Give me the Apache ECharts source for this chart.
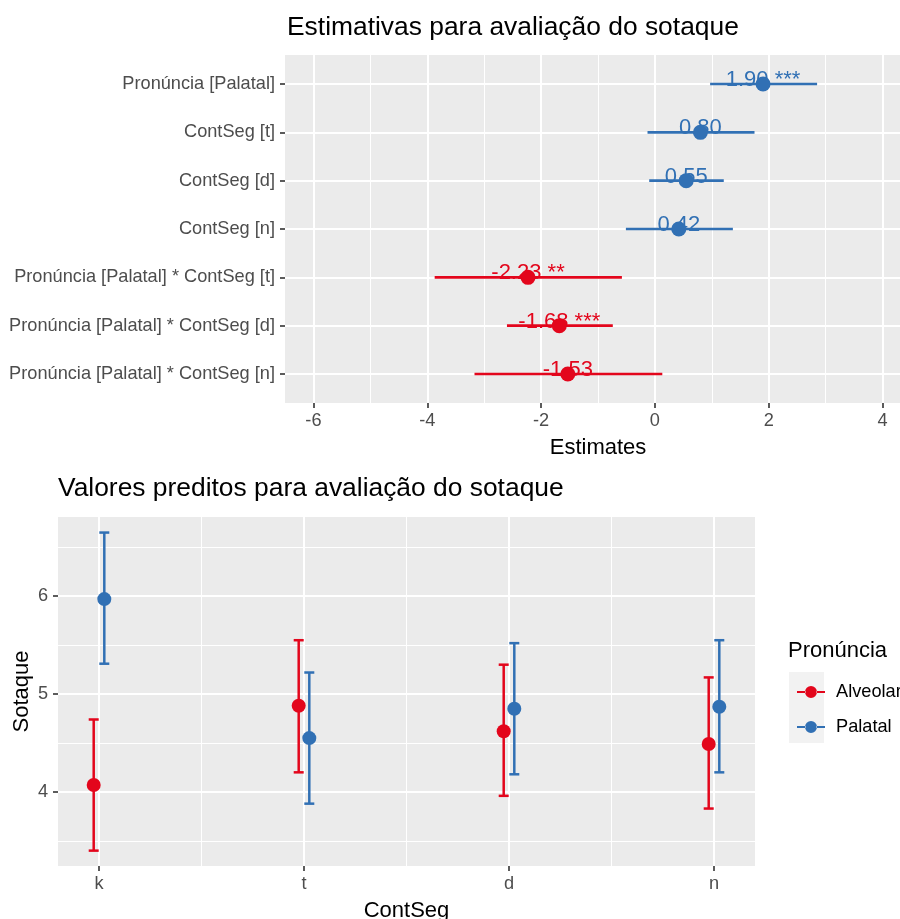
<!DOCTYPE html>
<html><head><meta charset="utf-8">
<script src="https://cdn.jsdelivr.net/npm/echarts@6/dist/echarts.min.js"></script>
<style>html,body{margin:0;padding:0;background:#fff}#c{width:900px;height:919px}</style>
</head><body><div id="c"></div>
<script>
// ---- Top panel: model estimates ----
const termLabels = ['Pronúncia [Palatal]', 'ContSeg [t]', 'ContSeg [d]', 'ContSeg [n]',
  'Pronúncia [Palatal] * ContSeg [t]', 'Pronúncia [Palatal] * ContSeg [d]', 'Pronúncia [Palatal] * ContSeg [n]'];
const estimates = [1.90, 0.80, 0.55, 0.42, -2.23, -1.68, -1.53];
const ciLow = [0.97, -0.13, -0.10, -0.51, -3.87, -2.60, -3.17];
const ciHigh = [2.85, 1.75, 1.21, 1.37, -0.58, -0.74, 0.13];
const stars = ['***', '', '', '', '**', '***', ''];
const estTicks = [-6, -4, -2, 0, 2, 4];

// ---- Bottom panel: predicted values ----
const contSeg = ['k', 't', 'd', 'n'];
const alveolarFit = [4.07, 4.88, 4.62, 4.49];
const alveolarLow = [3.40, 4.20, 3.96, 3.83];
const alveolarHigh = [4.74, 5.55, 5.30, 5.17];
const palatalFit = [5.97, 4.55, 4.85, 4.87];
const palatalLow = [5.31, 3.88, 4.18, 4.20];
const palatalHigh = [6.65, 5.22, 5.52, 5.55];
const sotaqueTicks = [4, 5, 6];

const RED = '#E3061C';
const BLUE = '#3170B4';
const FONT = '"Liberation Sans", Arial, Helvetica, sans-serif';
const TICKCOL = '#333333';
const LABCOL = '#4D4D4D';
const AXFS = 18.2;

const mids = a => a.slice(0, -1).map((v, i) => (v + a[i + 1]) / 2);
const rowIdx = termLabels.map((_, i) => i + 1);
const catIdx = contSeg.map((_, i) => i + 1);

function majorAxis(extra, vals, fmt, margin) {
  return Object.assign({
    type: 'value',
    axisLine: { show: false, onZero: false },
    axisTick: { show: true, length: 5, lineStyle: { color: TICKCOL, width: 1.6 }, customValues: vals },
    axisLabel: { color: LABCOL, fontSize: AXFS, fontFamily: FONT, margin: margin, customValues: vals, formatter: fmt },
    splitLine: { show: true, lineStyle: { color: '#FFFFFF', width: 2 } },
    nameTextStyle: { color: '#000', fontSize: 22, fontFamily: FONT }
  }, extra);
}
function minorAxis(extra, vals) {
  return Object.assign({
    type: 'value',
    axisLine: { show: false, onZero: false },
    axisTick: { show: false, customValues: vals },
    axisLabel: { show: false, customValues: vals },
    splitLine: { show: true, lineStyle: { color: '#FFFFFF', width: 1 } }
  }, extra);
}

function errRender(dx, color) {
  return function (params, api) {
    const p = api.coord([api.value(0), api.value(1)]);
    const lo = api.coord([api.value(0), api.value(2)]);
    const hi = api.coord([api.value(0), api.value(3)]);
    const cx = p[0] + dx;
    const st = { stroke: color, lineWidth: 2.5 };
    return { type: 'group', children: [
      { type: 'line', shape: { x1: cx, y1: lo[1], x2: cx, y2: hi[1] }, style: st },
      { type: 'line', shape: { x1: cx - 5, y1: lo[1], x2: cx + 5, y2: lo[1] }, style: st },
      { type: 'line', shape: { x1: cx - 5, y1: hi[1], x2: cx + 5, y2: hi[1] }, style: st },
      { type: 'circle', shape: { cx: cx, cy: p[1], r: 7 }, style: { fill: color } }
    ]};
  };
}

const legendIcon = 'path://M0 5h8.6v2H0z M19.4 5H28v2h-8.6z M8 6a6 6 0 1 0 12 0a6 6 0 1 0 -12 0z';
const colorOf = e => (e >= 0 ? BLUE : RED);

const option = {
  backgroundColor: '#FFFFFF',
  animation: false,
  textStyle: { fontFamily: FONT },
  title: [
    { text: 'Estimativas para avaliação do sotaque', left: 287, top: 15, padding: 0,
      textStyle: { fontSize: 26.4, fontWeight: 'normal', color: '#000', fontFamily: FONT } },
    { text: 'Valores preditos para avaliação do sotaque', left: 58, top: 476, padding: 0,
      textStyle: { fontSize: 26.4, fontWeight: 'normal', color: '#000', fontFamily: FONT } }
  ],
  grid: [
    { left: 285, top: 55, width: 626, height: 348, show: true, backgroundColor: '#EBEBEB', borderWidth: 0, outerBoundsMode: 'none', containLabel: false },
    { left: 58, top: 517, width: 697, height: 349, show: true, backgroundColor: '#EBEBEB', borderWidth: 0, outerBoundsMode: 'none', containLabel: false }
  ],
  xAxis: [
    minorAxis({ gridIndex: 0, position: 'bottom', min: -6.5, max: 4.5 }, mids(estTicks)),
    majorAxis({ gridIndex: 0, position: 'bottom', min: -6.5, max: 4.5, name: 'Estimates', nameLocation: 'middle', nameGap: 34, nameMoveOverlap: false },
      estTicks, v => String(v), 9),
    minorAxis({ gridIndex: 1, position: 'bottom', min: 0.8, max: 4.2 }, mids(catIdx)),
    majorAxis({ gridIndex: 1, position: 'bottom', min: 0.8, max: 4.2, name: 'ContSeg', nameLocation: 'middle', nameGap: 34, nameMoveOverlap: false },
      catIdx, v => contSeg[Math.round(v) - 1], 9)
  ],
  yAxis: [
    majorAxis({ gridIndex: 0, position: 'left', min: 0.4, max: 7.6, inverse: true },
      rowIdx, v => termLabels[Math.round(v) - 1], 10),
    minorAxis({ gridIndex: 1, position: 'left', min: 3.243, max: 6.809 }, mids([3, 4, 5, 6, 7])),
    majorAxis({ gridIndex: 1, position: 'left', min: 3.243, max: 6.809, name: 'Sotaque', nameLocation: 'middle', nameRotate: 90, nameGap: 25, nameMoveOverlap: false },
      sotaqueTicks, v => String(v), 10)
  ],
  legend: {
    orient: 'vertical', left: 792, top: 678, itemWidth: 28, itemHeight: 12, itemGap: 17,
    textStyle: { fontSize: AXFS, color: '#000', fontFamily: FONT, padding: [0, 0, 0, 6] },
    data: [
      { name: 'Alveolar', icon: legendIcon, itemStyle: { color: RED } },
      { name: 'Palatal', icon: legendIcon, itemStyle: { color: BLUE } }
    ]
  },
  graphic: [
    { type: 'rect', left: 789, top: 672, shape: { width: 35, height: 71 }, style: { fill: '#F2F2F2' }, z: 0 },
    { type: 'text', left: 788, top: 640, style: { text: 'Pronúncia', fontSize: 22, fill: '#000', font: '22px ' + FONT } }
  ],
  series: [
    {
      type: 'custom', xAxisIndex: 1, yAxisIndex: 0, z: 1,
      encode: { x: [0, 1], y: 2 },
      data: estimates.map((e, i) => [ciLow[i], ciHigh[i], i + 1, e]),
      renderItem: function (params, api) {
        const a = api.coord([api.value(0), api.value(2)]);
        const b = api.coord([api.value(1), api.value(2)]);
        return { type: 'line', shape: { x1: a[0], y1: a[1], x2: b[0], y2: b[1] },
          style: { stroke: colorOf(api.value(3)), lineWidth: 2.6 } };
      }
    },
    {
      type: 'scatter', xAxisIndex: 1, yAxisIndex: 0, z: 2, symbolSize: 0, silent: true,
      data: estimates.map((e, i) => ({
        value: [e, i + 1],
        label: { show: true, color: colorOf(e) }
      })),
      label: {
        show: true, position: 'inside', offset: [0, -4], fontSize: 22, fontFamily: FONT,
        textBorderWidth: 0, textBorderColor: 'transparent', opacity: 1,
        formatter: p => estimates[p.dataIndex].toFixed(2) + (stars[p.dataIndex] ? ' ' + stars[p.dataIndex] : '')
      }
    },
    {
      type: 'scatter', xAxisIndex: 1, yAxisIndex: 0, z: 3, symbolSize: 15,
      data: estimates.map((e, i) => ({ value: [e, i + 1], itemStyle: { color: colorOf(e), opacity: 1 } }))
    },
    {
      name: 'Alveolar', type: 'custom', xAxisIndex: 3, yAxisIndex: 2, z: 2,
      itemStyle: { color: RED },
      encode: { x: 0, y: [1, 2, 3] },
      data: contSeg.map((c, i) => [i + 1, alveolarFit[i], alveolarLow[i], alveolarHigh[i]]),
      renderItem: errRender(-5.3, RED)
    },
    {
      name: 'Palatal', type: 'custom', xAxisIndex: 3, yAxisIndex: 2, z: 3,
      itemStyle: { color: BLUE },
      encode: { x: 0, y: [1, 2, 3] },
      data: contSeg.map((c, i) => [i + 1, palatalFit[i], palatalLow[i], palatalHigh[i]]),
      renderItem: errRender(5.3, BLUE)
    }
  ]
};

const chart = echarts.init(document.getElementById('c'), null, { renderer: 'canvas' });
chart.setOption(option);
</script>
</body></html>
